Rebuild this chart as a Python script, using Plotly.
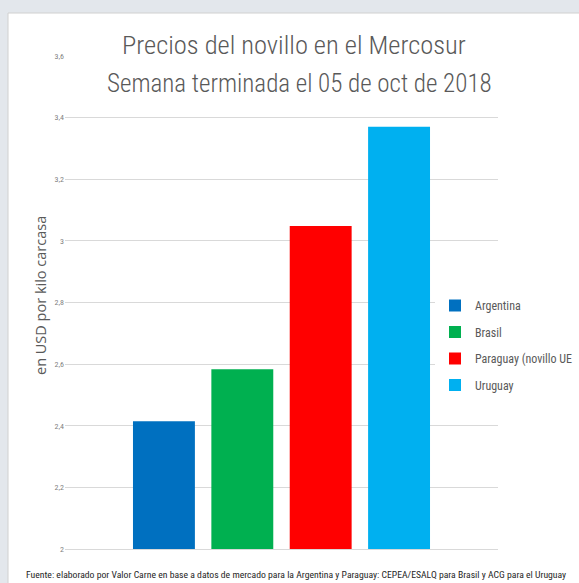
import plotly.graph_objects as go

countries = ["Argentina", "Brasil", "Paraguay (novillo UE", "Uruguay"]
prices = [2.415, 2.583, 3.048, 3.37]
colors = ["#0070C0", "#00B050", "#FF0000", "#00B0F0"]
category = [""]

title_lines = ["Precios del novillo en el Mercosur", "Semana terminada el 05 de oct de 2018"]
y_title = "en USD por kilo carcasa"
footer = ("Fuente: elaborado por Valor Carne en base a datos de mercado para la Argentina y Paraguay: "
          "CEPEA/ESALQ para Brasil y ACG para el Uruguay")

W, H = 579, 583
L, R, T, B = 65, 81, 56, 34
pw, ph = W - L - R, H - T - B

def px_x(x):
    return (x - L) / pw

def px_y(y):
    return (H - B - y) / ph

NARROW = "Roboto Condensed, Liberation Sans Narrow, Roboto, sans-serif"

fig = go.Figure()
for i, (name, val, col) in enumerate(zip(countries, prices, colors)):
    fig.add_trace(go.Bar(
        x=category, y=[val], name=name, marker_color=col,
        marker_line_width=0, legendgroup=f"g{i}"
    ))

fig.update_layout(
    width=W, height=H,
    margin=dict(l=L, r=R, t=T, b=B, autoexpand=False),
    paper_bgcolor="#e3e7ec",
    plot_bgcolor="rgba(0,0,0,0)",
    barmode="group",
    bargap=0.276,
    bargroupgap=0.21,
    separators=",.",
    showlegend=True,
    legend=dict(
        x=px_x(435), xanchor="left", y=px_y(291), yanchor="top",
        bgcolor="white", font=dict(family=NARROW, size=12, color="#595959"),
        tracegroupgap=7.5, itemclick=False,
    ),
    xaxis=dict(showticklabels=False, showgrid=False, zeroline=False, ticks="",
               showline=True, linecolor="#d9d9d9", linewidth=1),
    yaxis=dict(range=[2, 3.6], dtick=0.2, tick0=2, showgrid=True, gridcolor="#d9d9d9",
               gridwidth=1, zeroline=False, ticks="", showline=False,
               tickfont=dict(family=NARROW, size=8, color="#7f7f7f")),
    shapes=[
        dict(type="rect", xref="paper", yref="paper", layer="below",
             x0=px_x(8), x1=px_x(W + 2), y0=px_y(H + 2), y1=px_y(13),
             fillcolor="white", line=dict(color="#d0d0d0", width=1)),
    ],
    annotations=[
        dict(text=title_lines[0], xref="paper", yref="paper", x=px_x(294), y=px_y(44),
             xanchor="center", yanchor="middle", showarrow=False,
             font=dict(family=NARROW, size=26.5, color="#595959", weight=300)),
        dict(text=title_lines[1], xref="paper", yref="paper", x=px_x(299), y=px_y(83),
             xanchor="center", yanchor="middle", showarrow=False,
             font=dict(family=NARROW, size=25, color="#595959", weight=300)),
        dict(text=y_title, xref="paper", yref="paper", x=px_x(40), y=px_y(296),
             xanchor="center", yanchor="middle", showarrow=False, textangle=-90,
             font=dict(family="Open Sans, sans-serif", size=14.5, color="#595959")),
        dict(text=footer, xref="paper", yref="paper", x=px_x(296), y=px_y(574),
             xanchor="center", yanchor="middle", showarrow=False,
             font=dict(family=NARROW, size=9.7, color="#262626")),
    ],
)

fig.write_html("out.html", config={"displayModeBar": False},
               post_script="document.body.style.margin='0';document.body.style.overflow='hidden';")
